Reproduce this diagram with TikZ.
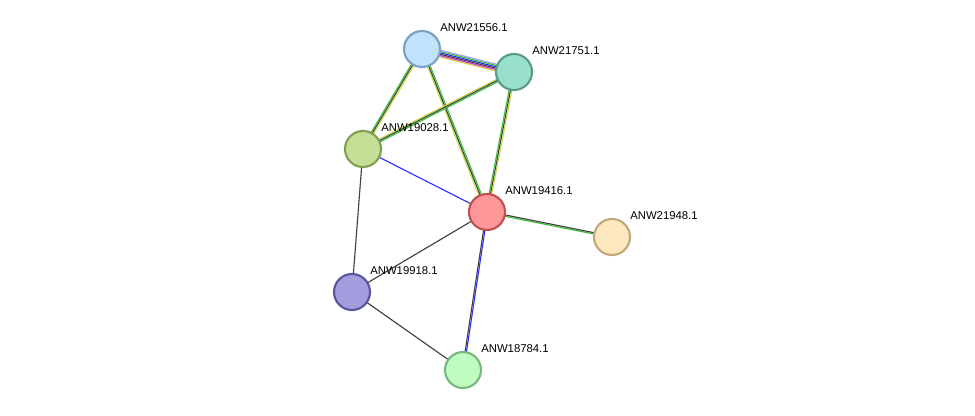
\documentclass[tikz,border=0pt]{standalone}
\usepackage{fontspec}
\setmainfont{Liberation Sans}
\usetikzlibrary{calc}
\definecolor{egreen}{HTML}{3CC03C}
\definecolor{eblack}{HTML}{404040}
\definecolor{eyellow}{HTML}{C8D840}
\definecolor{emagenta}{HTML}{D030D0}
\definecolor{eblue}{HTML}{3030F0}
\definecolor{elblue}{HTML}{A0A0F8}
\definecolor{f21556}{HTML}{C0E3FB}\definecolor{d21556}{HTML}{7BA0C0}
\definecolor{f21751}{HTML}{99E0CC}\definecolor{d21751}{HTML}{5A9B8A}
\definecolor{f19028}{HTML}{C6DF96}\definecolor{d19028}{HTML}{80A050}
\definecolor{f19416}{HTML}{FF9898}\definecolor{d19416}{HTML}{C05050}
\definecolor{f21948}{HTML}{FDE8C0}\definecolor{d21948}{HTML}{C0A878}
\definecolor{f19918}{HTML}{A29EE0}\definecolor{d19918}{HTML}{5C549C}
\definecolor{f18784}{HTML}{C0FCC0}\definecolor{d18784}{HTML}{78B880}
% draw parallel lines between two nodes, one per colour
\newcommand{\multiedge}[3]{%
  \foreach \col [count=\i] in {#3} {\xdef\nlines{\i}}%
  \foreach \col [count=\i] in {#3} {
    \pgfmathsetmacro{\off}{(\i-(\nlines+1)/2)*1.0}
    \draw[edge, \col] ($(#1)!\off pt!90:(#2)$) -- ($(#2)!\off pt!-90:(#1)$);
  }}
\begin{document}
\begin{tikzpicture}[x=0.75pt, y=-0.75pt,
    edge/.style={line width=0.85pt},
    prot/.style={circle, minimum size=27pt, inner sep=0pt, line width=1.6pt, fill=f#1, draw=d#1},
    lbl/.style={anchor=south west, font=\fontsize{8.5}{10}\selectfont, inner sep=0pt}
]
  \useasboundingbox (0,0) rectangle (975,416);
  % node positions
  \coordinate (p21556) at (422,49);
  \coordinate (p21751) at (514,72);
  \coordinate (p19028) at (363,149);
  \coordinate (p19416) at (487,212);
  \coordinate (p21948) at (612,237);
  \coordinate (p19918) at (352,292);
  \coordinate (p18784) at (463,370);
  % connectors
  \multiedge{p21556}{p21751}{eyellow,emagenta,eblack,eblue,egreen,elblue}
  \multiedge{p21556}{p19028}{egreen,eblack,eyellow}
  \multiedge{p21556}{p19416}{eyellow,eblack,egreen}
  \multiedge{p21751}{p19028}{eyellow,eblack,egreen}
  \multiedge{p21751}{p19416}{egreen,eblack,eyellow}
  \multiedge{p19416}{p21948}{egreen,eblack}
  \multiedge{p19416}{p18784}{eblack,eblue}
  \draw[edge, eblue] (p19028) -- (p19416);
  \draw[edge, eblack] (p19416) -- (p19918);
  \draw[edge, eblack] (p19028) -- (p19918);
  \draw[edge, eblack] (p19918) -- (p18784);
  % proteins
  \foreach \p in {21556,21751,19028,19416,21948,19918,18784}
    \node[prot=\p] (n\p) at (p\p) {};
  % labels
  \foreach \p in {21556,21751,19028,19416,21948,19918,18784}
    \node[lbl] (l\p) at ($(p\p)+(18,-17)$) {ANW\p.1};
\end{tikzpicture}
\end{document}
